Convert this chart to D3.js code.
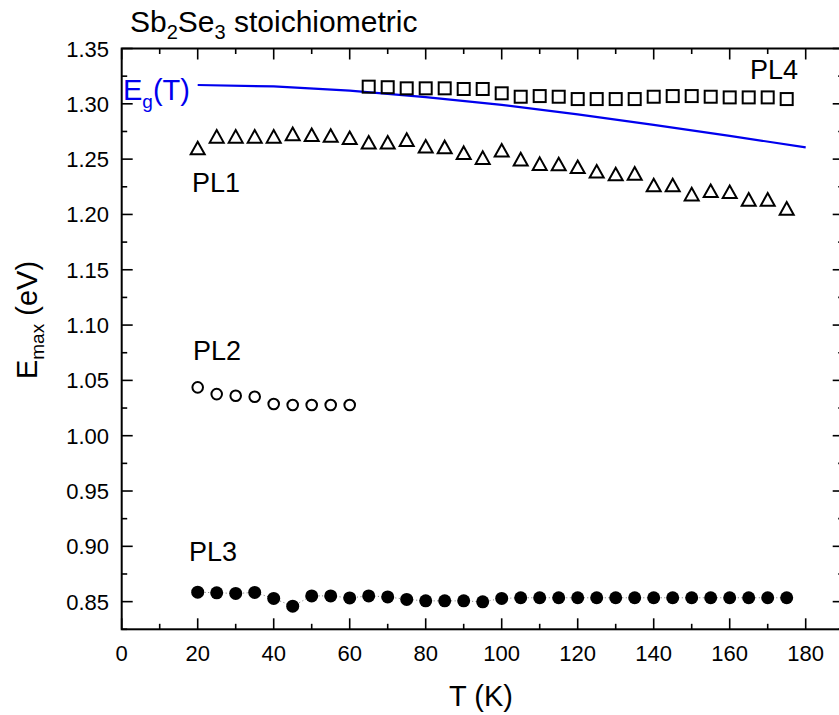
<!DOCTYPE html>
<html>
<head>
<meta charset="utf-8">
<script src="https://cdn.jsdelivr.net/npm/d3@7"></script>
<style>
  body { margin: 0; background: #fff; }
  svg { font-family: 'Liberation Sans', Arial, sans-serif; }
</style>
</head>
<body>
<div id="chart"></div>
<script>
'use strict';

// temperatures (K)
var tPL1 = [20, 25, 30, 35, 40, 45, 50, 55, 60, 65, 70, 75, 80, 85, 90, 95, 100, 105, 110, 115, 120, 125, 130, 135, 140, 145, 150, 155, 160, 165, 170, 175];
var ePL1 = [1.260, 1.2706, 1.2706, 1.2706, 1.2706, 1.2728, 1.272, 1.2713, 1.2693, 1.2652, 1.2652, 1.2676, 1.2616, 1.261, 1.2558, 1.2514, 1.258, 1.250, 1.2459, 1.2456, 1.2431, 1.239, 1.2365, 1.2371, 1.2266, 1.2266, 1.2184, 1.2214, 1.2205, 1.2136, 1.2136, 1.2055];

var tPL2 = [20, 25, 30, 35, 40, 45, 50, 55, 60];
var ePL2 = [1.0437, 1.0376, 1.0361, 1.0352, 1.0286, 1.0277, 1.0277, 1.0277, 1.0277];

var tPL3 = [20, 25, 30, 35, 40, 45, 50, 55, 60, 65, 70, 75, 80, 85, 90, 95, 100, 105, 110, 115, 120, 125, 130, 135, 140, 145, 150, 155, 160, 165, 170, 175];
var ePL3 = [0.8586, 0.858, 0.8574, 0.8583, 0.8529, 0.8459, 0.8552, 0.8552, 0.8534, 0.8552, 0.8543, 0.852, 0.8507, 0.8507, 0.8507, 0.8498, 0.8529, 0.8535, 0.8535, 0.8535, 0.8535, 0.8535, 0.8535, 0.8535, 0.8535, 0.8535, 0.8535, 0.8535, 0.8535, 0.8535, 0.8535, 0.8535];

var tPL4 = [65, 70, 75, 80, 85, 90, 95, 100, 105, 110, 115, 120, 125, 130, 135, 140, 145, 150, 155, 160, 165, 170, 175];
var ePL4 = [1.3155, 1.315, 1.314, 1.314, 1.314, 1.3134, 1.3134, 1.3095, 1.3064, 1.307, 1.3064, 1.3043, 1.3043, 1.3043, 1.3043, 1.3064, 1.307, 1.307, 1.3064, 1.3058, 1.3058, 1.3058, 1.3043];

var tEg = [20, 40, 60, 80, 100, 120, 140, 160, 180];
var eEg = [1.317, 1.3157, 1.312, 1.306, 1.299, 1.2905, 1.281, 1.271, 1.2607];

var xTicks = [0, 20, 40, 60, 80, 100, 120, 140, 160, 180];
var yTicks = [0.85, 0.90, 0.95, 1.00, 1.05, 1.10, 1.15, 1.20, 1.25, 1.30, 1.35];

var W = 839, H = 715;
var margin = {left: 121.7, right: 843.7, top: 48.5, bottom: 629.3};

var svg = d3.select('#chart').append('svg')
  .attr('width', W)
  .attr('height', H);

var x = d3.scaleLinear().domain([0, 190]).range([margin.left, margin.right]);
var y = d3.scaleLinear().domain([0.825, 1.35]).range([margin.bottom, margin.top]);

function zip(ts, es) {
  return ts.map(function(t, i) { return {t: t, e: es[i]}; });
}

function i20(v) {
  return Math.abs(Math.round(v * 20) - v * 20) < 1e-6;
}

// minor / major ticks, all pointing inside
var xMinor = d3.range(0, 191, 10);
var yMinor = d3.range(0, 22).map(function(i) { return 0.825 + i * 0.025; });

var axes = svg.append('g').attr('stroke', '#000').attr('stroke-width', 1.6);

xMinor.forEach(function(t) {
  var len = t % 20 === 0 ? 11 : 5.5;
  axes.append('line').attr('x1', x(t)).attr('x2', x(t)).attr('y1', margin.bottom).attr('y2', margin.bottom - len);
  axes.append('line').attr('x1', x(t)).attr('x2', x(t)).attr('y1', margin.top).attr('y2', margin.top + len);
});

yMinor.forEach(function(v) {
  var len = i20(v) ? 11 : 5.5;
  axes.append('line').attr('x1', margin.left).attr('x2', margin.left + len).attr('y1', y(v)).attr('y2', y(v));
  axes.append('line').attr('x1', margin.right).attr('x2', margin.right - len).attr('y1', y(v)).attr('y2', y(v));
});

svg.append('rect')
  .attr('x', margin.left).attr('y', margin.top)
  .attr('width', margin.right - margin.left).attr('height', margin.bottom - margin.top)
  .attr('fill', 'none').attr('stroke', '#000').attr('stroke-width', 2);

// tick labels
svg.append('g').selectAll('text')
  .data(xTicks)
  .enter()
  .append('text')
  .attr('x', function(d) { return x(d); })
  .attr('y', margin.bottom + 32)
  .attr('text-anchor', 'middle')
  .style('font-size', '22px')
  .text(function(d) { return d; });

svg.append('g').selectAll('text')
  .data(yTicks)
  .enter()
  .append('text')
  .attr('x', 109)
  .attr('y', function(d) { return y(d); })
  .attr('dy', 8)
  .attr('text-anchor', 'end')
  .style('font-size', '22px')
  .text(function(d) { return d.toFixed(2); });

// axis titles
svg.append('text')
  .attr('x', 481)
  .attr('y', 706)
  .attr('text-anchor', 'middle')
  .style('font-size', '29px')
  .text('T (K)');

var yt = svg.append('text')
  .attr('transform', 'translate(37,320) rotate(-90)')
  .attr('text-anchor', 'middle')
  .style('font-size', '29px');
yt.append('tspan').text('E');
yt.append('tspan').attr('dy', 7).style('font-size', '19px').text('max');
yt.append('tspan').attr('dy', -7).text(' (eV)');

// title
var title = svg.append('text')
  .attr('x', 130)
  .attr('y', 32)
  .style('font-size', '30px');
title.append('tspan').text('Sb');
title.append('tspan').attr('dy', 7).style('font-size', '20px').text('2');
title.append('tspan').attr('dy', -7).text('Se');
title.append('tspan').attr('dy', 7).style('font-size', '20px').text('3');
title.append('tspan').attr('dy', -7).text(' stoichiometric');

// Eg(T) line
var line = d3.line()
  .x(function(d) { return x(d.t); })
  .y(function(d) { return y(d.e); });

svg.append('path')
  .datum(zip(tEg, eEg))
  .attr('d', line)
  .attr('fill', 'none')
  .attr('stroke', '#0000ee')
  .attr('stroke-width', 2.2);

var eg = svg.append('text')
  .attr('x', 123)
  .attr('y', 100)
  .attr('fill', '#0000ee')
  .style('font-size', '29px');
eg.append('tspan').text('E');
eg.append('tspan').attr('dy', 8).style('font-size', '19px').text('g');
eg.append('tspan').attr('dy', -8).text('(T)');

// PL3 dotted connector
svg.append('path')
  .datum(zip(tPL3, ePL3))
  .attr('d', line)
  .attr('fill', 'none')
  .attr('stroke', '#777')
  .attr('stroke-width', 1)
  .attr('stroke-dasharray', '1,2.5');

// markers
function place(d) { return 'translate(' + x(d.t) + ',' + y(d.e) + ')'; }

svg.append('g').selectAll('path')
  .data(zip(tPL1, ePL1))
  .enter()
  .append('path')
  .attr('transform', place)
  .attr('d', 'M0,-6.3L7,6.3L-7,6.3Z')
  .attr('fill', 'none')
  .attr('stroke', '#000')
  .attr('stroke-width', 2);

svg.append('g').selectAll('rect')
  .data(zip(tPL4, ePL4))
  .enter()
  .append('rect')
  .attr('transform', place)
  .attr('x', -6).attr('y', -6)
  .attr('width', 12).attr('height', 12)
  .attr('fill', 'none')
  .attr('stroke', '#000')
  .attr('stroke-width', 2);

svg.append('g').selectAll('circle')
  .data(zip(tPL2, ePL2))
  .enter()
  .append('circle')
  .attr('transform', place)
  .attr('r', 5.3)
  .attr('fill', 'none')
  .attr('stroke', '#000')
  .attr('stroke-width', 2);

svg.append('g').selectAll('circle.f')
  .data(zip(tPL3, ePL3))
  .enter()
  .append('circle')
  .attr('class', 'f')
  .attr('transform', place)
  .attr('r', 6.5)
  .attr('fill', '#000');

// series labels
var labels = [
  {text: 'PL1', px: 192, py: 192},
  {text: 'PL2', px: 193, py: 360},
  {text: 'PL3', px: 189, py: 561},
  {text: 'PL4', px: 750, py: 79}
];

svg.append('g').selectAll('text')
  .data(labels)
  .enter()
  .append('text')
  .attr('x', function(d) { return d.px; })
  .attr('y', function(d) { return d.py; })
  .style('font-size', '27px')
  .text(function(d) { return d.text; });
</script>
</body>
</html>
